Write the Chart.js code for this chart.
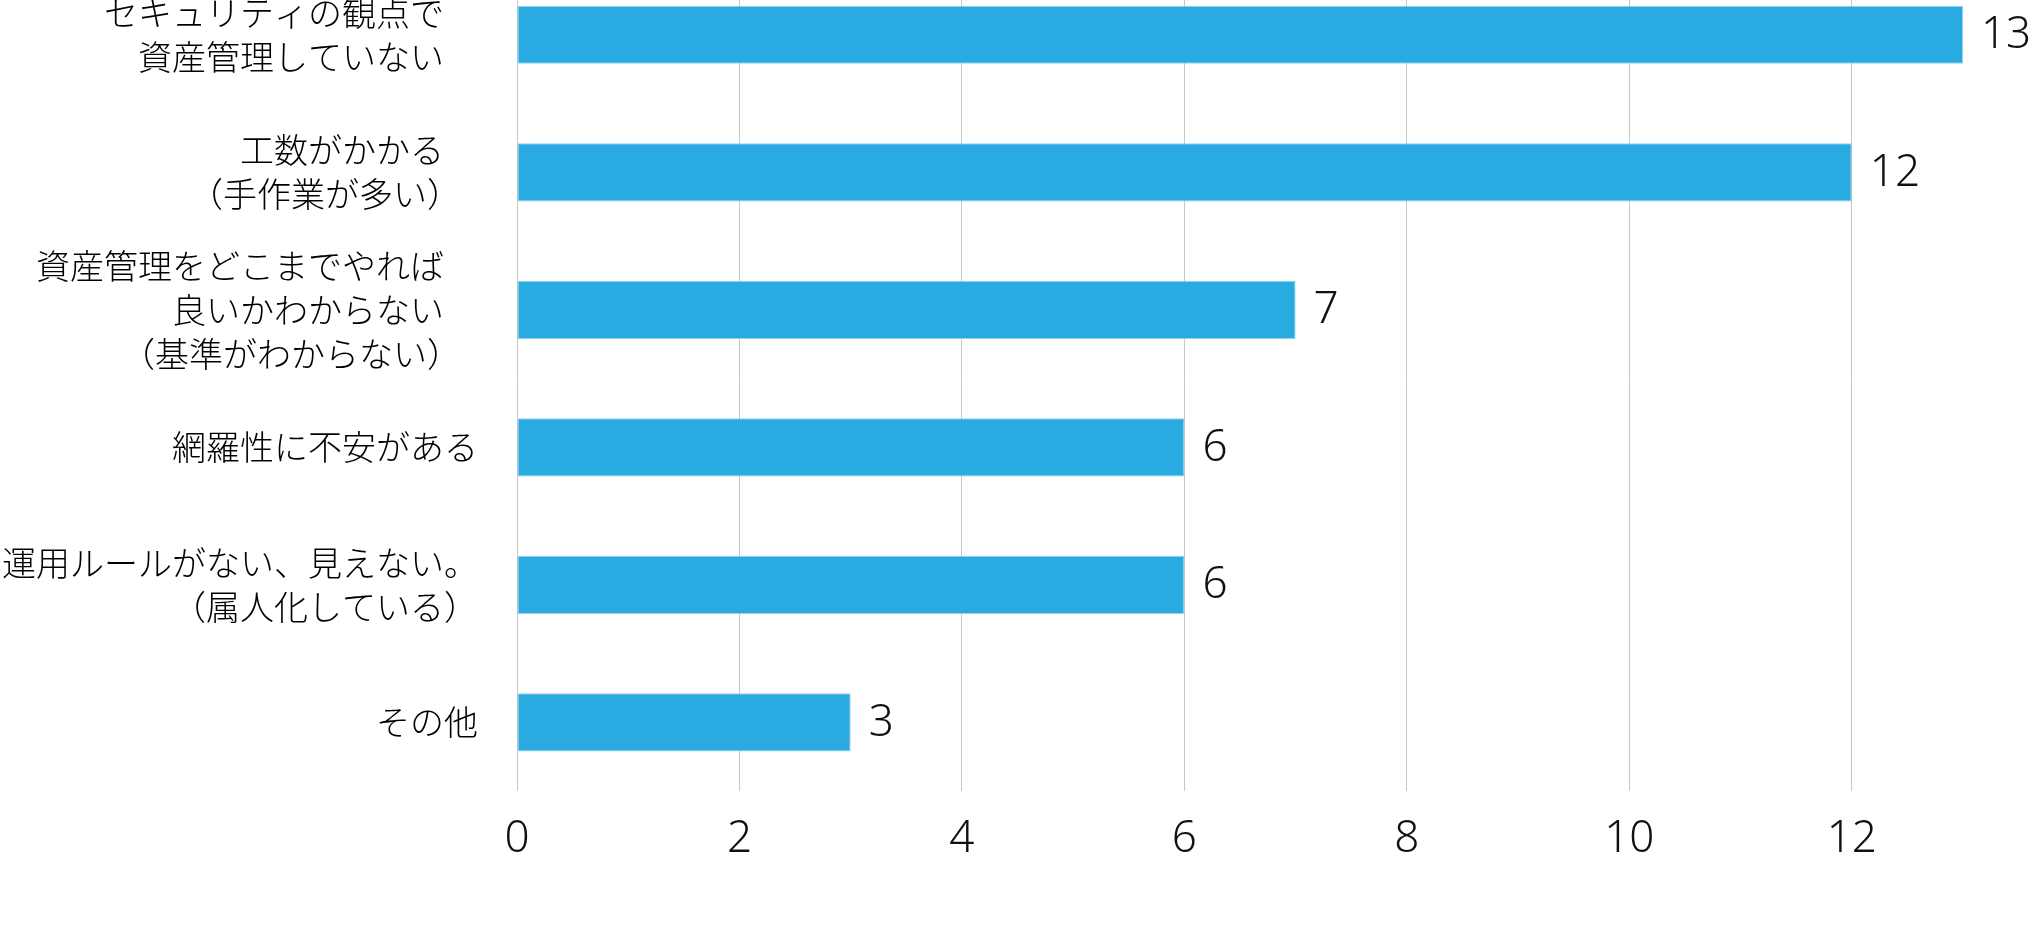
<!DOCTYPE html>
<html lang="ja">
<head>
<meta charset="utf-8">
<title>資産管理の課題</title>
<script src="https://cdn.jsdelivr.net/npm/chart.js@4.4.1/dist/chart.umd.min.js"></script>
<style>
  html, body { margin: 0; padding: 0; background: #fff; overflow: hidden; }
  #wrap { position: absolute; left: 0; top: -34px; width: 2032px; height: 982px; }
</style>
</head>
<body>
<div id="wrap"><canvas id="issuesChart" width="2032" height="982"></canvas></div>
<script>
// survey answers, top to bottom
const categories = [
  ['セキュリティの観点で', '資産管理していない'],
  ['工数がかかる', '（手作業が多い）'],
  ['資産管理をどこまでやれば', '良いかわからない', '（基準がわからない）'],
  '網羅性に不安がある',
  ['運用ルールがない、見えない。', '（属人化している）'],
  'その他'
];
const counts = [13, 12, 7, 6, 6, 3];
const xTicks = [0, 2, 4, 6, 8, 10, 12];
const xMax = 13;

const FONT = "'Noto Sans CJK JP', 'Noto Sans', sans-serif";
const NUM_FONT = "'Noto Sans', 'Noto Sans CJK JP', sans-serif";
const BAR_BLUE = 'rgb(41, 170, 225)';

// the first three labels sit a bit further from the axis in the original
const indented = [0, 1, 2];

// draws the count to the right of each bar
const valueLabels = {
  id: 'valueLabels',
  afterDatasetsDraw(chart) {
    const ctx = chart.ctx;
    const meta = chart.getDatasetMeta(0);
    ctx.save();
    ctx.font = '300 44px ' + NUM_FONT;
    ctx.fillStyle = '#111';
    ctx.textAlign = 'left';
    ctx.textBaseline = 'middle';
    meta.data.forEach((bar, i) => {
      ctx.fillText(String(counts[i]), bar.x + 18, bar.y + 1);
    });
    ctx.restore();
  }
};

const ctx = document.getElementById('issuesChart').getContext('2d');
const chart = new Chart(ctx, {
  type: 'bar',
  data: {
    labels: categories,
    datasets: [{
      data: counts,
      backgroundColor: BAR_BLUE,
      borderColor: 'rgba(140, 205, 235, 0.9)',
      borderWidth: 1,
      borderSkipped: false,
      categoryPercentage: 1,
      barPercentage: 0.423
    }]
  },
  options: {
    indexAxis: 'y',
    responsive: false,
    animation: false,
    devicePixelRatio: 1,
    layout: { padding: { top: 0, right: 69, bottom: 60, left: 0 } },
    plugins: {
      legend: { display: false },
      tooltip: { enabled: false }
    },
    scales: {
      x: {
        min: 0,
        max: xMax,
        z: 1,
        border: { display: false },
        grid: { color: 'rgba(0, 0, 0, 0.22)', lineWidth: 1, drawTicks: false },
        afterBuildTicks: (scale) => {
          scale.ticks = xTicks.map(v => ({ value: v }));
        },
        afterFit: (scale) => {
          scale.paddingLeft = 0;
          scale.paddingRight = 0;
        },
        ticks: {
          stepSize: 2,
          includeBounds: false,
          autoSkip: false,
          maxRotation: 0,
          padding: 22,
          color: '#111',
          font: { family: NUM_FONT, size: 44, weight: '300' }
        }
      },
      y: {
        border: { display: false },
        grid: { display: false, drawTicks: false },
        afterFit: (scale) => {
          scale.width = 517;
          scale.paddingTop = 0;
          scale.paddingBottom = 0;
        },
        ticks: {
          autoSkip: false,
          padding: 39,
          color: '#000',
          font: { family: FONT, size: 34, weight: '300', lineHeight: 1.3 },
          callback: function (value, index) {
            const lbl = this.getLabelForValue(value);
            const lines = Array.isArray(lbl) ? lbl : [lbl];
            if (indented.includes(index)) {
              return lines.map(l => l + '\u3000');
            }
            return lines;
          }
        }
      }
    }
  },
  plugins: [valueLabels]
});
</script>
</body>
</html>
